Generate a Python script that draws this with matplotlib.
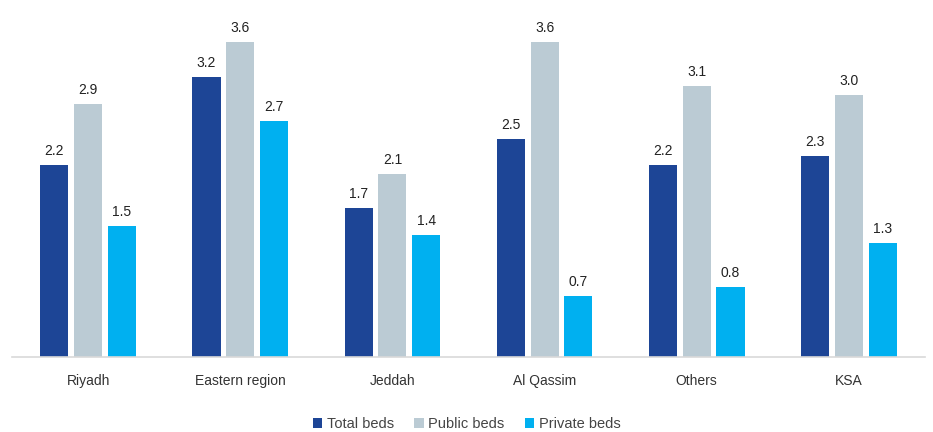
import matplotlib
matplotlib.use("Agg")
import matplotlib.pyplot as plt
import numpy as np

plt.rcParams['font.family'] = ['Liberation Sans', 'DejaVu Sans']

categories = ["Riyadh", "Eastern region", "Jeddah", "Al Qassim", "Others", "KSA"]
total_beds = [2.2, 3.2, 1.7, 2.5, 2.2, 2.3]
public_beds = [2.9, 3.6, 2.1, 3.6, 3.1, 3.0]
private_beds = [1.5, 2.7, 1.4, 0.7, 0.8, 1.3]
series_names = ["Total beds", "Public beds", "Private beds"]
colors = ["#1D4596", "#BBCBD4", "#00B0F0"]

fig = plt.figure(figsize=(9.33, 4.32), dpi=100)
ax = fig.add_axes([12/933, 1 - 357/432, 913/933, 332/432])

x = np.arange(len(categories))
w = 0.185
off = 0.222
for i, (vals, name, c) in enumerate(zip([total_beds, public_beds, private_beds], series_names, colors)):
    bars = ax.bar(x + (i - 1) * off, vals, width=w, color=c, label=name, zorder=2)
    for b, v in zip(bars, vals):
        ax.text(b.get_x() + b.get_width() / 2, v + 0.08, f"{v:.1f}",
                ha="center", va="bottom", fontsize=10, color="#222222")

ax.set_xlim(-0.5, len(categories) - 0.5)
ax.set_ylim(0, 3.8)
ax.set_yticks([])
ax.set_xticks(x)
ax.set_xticklabels(categories, fontsize=10, color="#333333")
ax.tick_params(axis="x", length=0, pad=12)
for s in ["top", "right", "left"]:
    ax.spines[s].set_visible(False)
ax.spines["bottom"].set_color("#D9D9D9")
ax.spines["bottom"].set_linewidth(1.2)

leg = fig.legend(loc="center", bbox_to_anchor=(0.5, 1 - 424/432), ncol=3, frameon=False,
                 fontsize=10.5, handlelength=0.65, handleheight=0.65, handletextpad=0.3,
                 columnspacing=1.4)
for t in leg.get_texts():
    t.set_color("#444444")

fig.savefig("out.png", dpi=100)
